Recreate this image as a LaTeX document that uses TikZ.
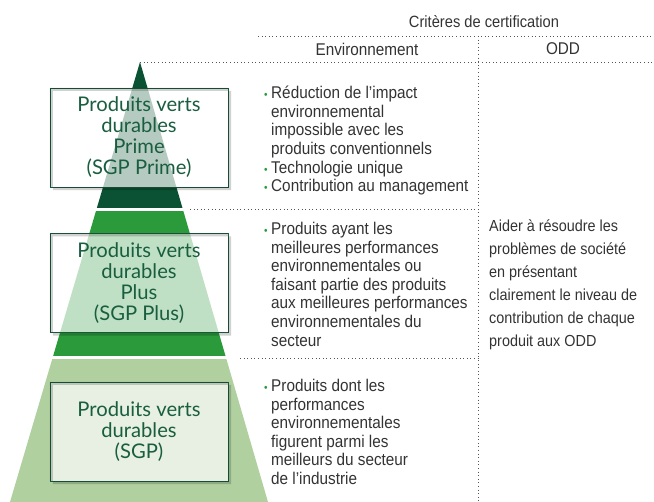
\documentclass[tikz,border=0pt]{standalone}
\usepackage{fontspec}
\usepackage{xcolor}
\usepackage{tikz}
\usetikzlibrary{calc, positioning}

\newfontfamily\boxfont{Lato}
\newfontfamily\critfont[FakeStretch=0.9]{Liberation Sans}

\definecolor{darkgreen}{HTML}{0A5233}
\definecolor{midgreen}{HTML}{2A9A3A}
\definecolor{lightgreen}{HTML}{B0D0A0}
\definecolor{boxgreen}{HTML}{1A5E40}
\definecolor{dotgray}{HTML}{555555}
\definecolor{textgray}{HTML}{333333}

\newcommand{\puce}{\llap{{\color{midgreen}\fontsize{11}{11}\selectfont\textbullet}\hspace{3.5pt}}}

\begin{document}
\begin{tikzpicture}[x=1pt, y=-1pt, font=\critfont\fontsize{17}{18.6}\selectfont]
		\tikzstyle{dots} = [dotgray, line width=0.8pt, dash pattern=on 1pt off 2.6pt]
		\tikzstyle{level} = [draw=boxgreen, fill=white, fill opacity=0.7, text opacity=1, text=boxgreen, minimum width=178pt, minimum height=99pt, align=center, font=\boxfont\fontsize{20.2}{21}\selectfont]
		\tikzstyle{crit} = [anchor=north west, align=left, inner sep=0pt, text=textgray]
		\tikzstyle{shade} = [black, opacity=0.18, even odd rule]
		
		\useasboundingbox (0,0) rectangle (654,502);
		
		% pyramid
		\coordinate (apex) at (140,62);
		\coordinate (baseL) at (10,502);
		\coordinate (baseR) at (268,502);
		\begin{scope}
			\clip (apex) -- (baseL) -- (baseR) -- cycle;
			\fill[darkgreen]  (0,62)  rectangle (300,208);
			\fill[midgreen]   (0,211) rectangle (300,356);
			\fill[lightgreen] (0,359) rectangle (300,502);
		\end{scope}
		
		% grid
		\draw[dots] (258,36) -- (654,36);
		\draw[dots] (apex) -- (654,62);
		\draw[dots] (478,36) -- (478,502);
		\draw[dots] (190,209) -- (478,209);
		\draw[dots] (240,358) -- (478,358);
		
		\node[text=textgray, font=\critfont\fontsize{16.3}{18}\selectfont] at (484,22) (crit) {Critères de certification};
		\node[text=textgray] at (367,49) (env)  {Environnement};
		\node[text=textgray] at (563,49) (odd)  {ODD};
		
		% levels
		\node[level] at (139,137.5) (prime) {Produits verts\\durables\\Prime\\(SGP Prime)};
		\node[level] at (139,283)   (plus)  {Produits verts\\durables\\Plus\\(SGP Plus)};
		\node[level] at (139,431.5) (sgp)   {Produits verts\\durables\\(SGP)};
		\foreach \b in {prime, plus, sgp}
			\fill[shade] ($(\b.north west)+(3,3)$) rectangle ($(\b.south east)+(3,3)$)
				(\b.north west) rectangle (\b.south east);
		
		% criteria
		\node[crit] at (271,86) (envprime) {\puce Réduction de l’impact\\environnemental\\impossible avec les\\produits conventionnels\\\puce Technologie unique\\\puce Contribution au management};
		\node[crit] at (271,222) (envplus) {\puce Produits ayant les\\meilleures performances\\environnementales ou\\faisant partie des produits\\aux meilleures performances\\environnementales du\\secteur};
		\node[crit] at (271,379) (envsgp) {\puce Produits dont les\\performances\\environnementales\\figurent parmi les\\meilleurs du secteur\\de l’industrie};
		\node[crit, font=\critfont\fontsize{16}{23}\selectfont] at (489,220) (oddall) {Aider à résoudre les\\problèmes de société\\en présentant\\clairement le niveau de\\contribution de chaque\\produit aux ODD};
	\end{tikzpicture}
\end{document}
